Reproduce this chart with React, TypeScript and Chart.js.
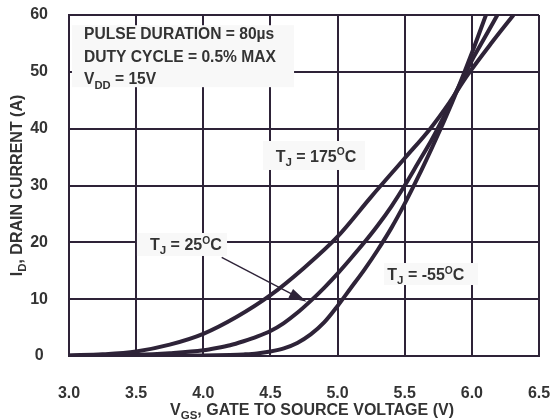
import { useEffect, useRef } from 'react';
import { Chart, registerables } from 'chart.js';

Chart.register(...registerables);

// ---- data ----
const X_TICK_VALUES = [3.0, 3.5, 4.0, 4.5, 5.0, 5.5, 6.0, 6.5];
const Y_TICK_VALUES = [0, 10, 20, 30, 40, 50, 60];

const vgs175 = [3.0, 3.25, 3.5, 3.75, 4.0, 4.25, 4.5, 4.75, 5.0, 5.25, 5.5, 5.69, 5.83, 5.97, 6.15, 6.31];
const id175 = [0.1, 0.3, 0.8, 2.0, 3.9, 6.9, 10.7, 15.5, 21.0, 28.0, 34.8, 40.0, 44.5, 49.5, 55.2, 60.0];

const vgs25 = [3.0, 3.25, 3.5, 3.75, 4.0, 4.1, 4.2, 4.3, 4.4, 4.5, 4.6, 4.7, 4.8, 4.9, 5.0, 5.1, 5.2, 5.3, 5.4, 5.5, 5.6, 5.7, 5.8, 5.9, 6.0, 6.1, 6.19];
const id25 = [0.05, 0.1, 0.2, 0.5, 1.0, 1.4, 1.9, 2.6, 3.4, 4.4, 5.8, 7.6, 9.7, 12.0, 14.5, 17.2, 20.0, 23.0, 26.3, 30.0, 34.0, 38.0, 42.5, 47.3, 52.0, 56.2, 60.0];

const vgsM55 = [3.0, 3.5, 4.0, 4.1, 4.2, 4.3, 4.4, 4.5, 4.6, 4.7, 4.8, 4.9, 5.0, 5.1, 5.2, 5.3, 5.4, 5.5, 5.6, 5.7, 5.8, 5.9, 6.0, 6.105];
const idM55 = [0, 0.02, 0.08, 0.12, 0.18, 0.28, 0.45, 0.8, 1.35, 2.3, 3.8, 5.9, 8.8, 12.0, 15.2, 18.7, 22.5, 26.8, 31.5, 36.5, 41.7, 47.3, 53.3, 60.0];

const X_TITLE = [{ t: 'V' }, { t: 'GS', k: 'sub' }, { t: ', GATE TO SOURCE VOLTAGE (V)' }];
const Y_TITLE = [{ t: 'I' }, { t: 'D', k: 'sub' }, { t: ', DRAIN CURRENT (A)' }];

const NOTE_LINES = [
  [{ t: 'PULSE DURATION = 80µs' }],
  [{ t: 'DUTY CYCLE = 0.5% MAX' }],
  [{ t: 'V' }, { t: 'DD', k: 'sub' }, { t: ' = 15V' }],
];

const LABEL_175 = [{ t: 'T' }, { t: 'J', k: 'sub' }, { t: ' = 175' }, { t: 'O', k: 'sup' }, { t: 'C' }];
const LABEL_25 = [{ t: 'T' }, { t: 'J', k: 'sub' }, { t: ' = 25' }, { t: 'O', k: 'sup' }, { t: 'C' }];
const LABEL_M55 = [{ t: 'T' }, { t: 'J', k: 'sub' }, { t: ' = -55' }, { t: 'O', k: 'sup' }, { t: 'C' }];

// annotation placement in data units: box [x0, x1, yTop, yBottom]
const NOTE_BOX = [3.022, 4.676, 58.2, 47.3];
const NOTE_TEXT_X = 3.112;
const NOTE_BASELINES = [55.73, 51.79, 47.81];
const LABELS = [
  { runs: LABEL_175, x: 4.839, y: 34.19, box: [4.445, 5.204, 37.83, 32.73] },
  { runs: LABEL_25, x: 3.87, y: 18.65, box: [3.506, 4.177, 21.64, 17.6] },
  { runs: LABEL_M55, x: 5.657, y: 13.37, box: [5.346, 6.046, 16.36, 12.49] },
];
const ARROW = { from: [4.137, 17.37], to: [4.77, 9.55] };

const INK = '#2e2338';
const TEXT = '#333333';
const BOX_BG = '#f8f8f8';
const FONT_FAMILY = '"Liberation Sans", Arial, Helvetica, sans-serif';
const FS = 16;
const NOTE_FS = 15.6;

type Run = { t: string; k?: string };

function fontFor(k: string | undefined, size: number) {
  const s = k === 'sub' ? size * 0.72 : k === 'sup' ? size * 0.64 : size;
  return `bold ${s}px ${FONT_FAMILY}`;
}

function drawRuns(ctx: CanvasRenderingContext2D, runs: Run[], x: number, y: number, align: 'left' | 'center', size = FS) {
  let total = 0;
  for (const r of runs) {
    ctx.font = fontFor(r.k, size);
    total += ctx.measureText(r.t).width;
  }
  let cx = align === 'center' ? x - total / 2 : x;
  ctx.textAlign = 'left';
  ctx.textBaseline = 'alphabetic';
  for (const r of runs) {
    ctx.font = fontFor(r.k, size);
    const dy = r.k === 'sub' ? size * 0.28 : r.k === 'sup' ? -size * 0.4 : 0;
    ctx.fillText(r.t, cx, y + dy);
    cx += ctx.measureText(r.t).width;
  }
}

const annotationPlugin = {
  id: 'annotations',
  beforeDatasetsDraw(chart: any) {
    const { ctx, scales } = chart;
    const xs = scales.x;
    const ys = scales.y;
    const px = (v: number) => xs.getPixelForValue(v);
    const py = (v: number) => ys.getPixelForValue(v);
    ctx.save();
    // note box
    ctx.fillStyle = BOX_BG;
    ctx.fillRect(px(NOTE_BOX[0]), py(NOTE_BOX[2]), px(NOTE_BOX[1]) - px(NOTE_BOX[0]), py(NOTE_BOX[3]) - py(NOTE_BOX[2]));
    ctx.fillStyle = TEXT;
    NOTE_LINES.forEach((runs, i) => drawRuns(ctx, runs, px(NOTE_TEXT_X), py(NOTE_BASELINES[i]), 'left', NOTE_FS));
    // labels
    for (const l of LABELS) {
      ctx.fillStyle = BOX_BG;
      ctx.fillRect(px(l.box[0]), py(l.box[2]), px(l.box[1]) - px(l.box[0]), py(l.box[3]) - py(l.box[2]));
      ctx.fillStyle = TEXT;
      drawRuns(ctx, l.runs, px(l.x), py(l.y), 'center');
    }
    // arrow
    const x0 = px(ARROW.from[0]), y0 = py(ARROW.from[1]);
    const x1 = px(ARROW.to[0]), y1 = py(ARROW.to[1]);
    const ang = Math.atan2(y1 - y0, x1 - x0);
    const hl = 18, hw = 5;
    ctx.strokeStyle = INK;
    ctx.lineWidth = 1.4;
    ctx.beginPath();
    ctx.moveTo(x0, y0);
    ctx.lineTo(x1 - Math.cos(ang) * hl * 0.8, y1 - Math.sin(ang) * hl * 0.8);
    ctx.stroke();
    ctx.fillStyle = INK;
    ctx.beginPath();
    ctx.moveTo(x1, y1);
    ctx.lineTo(x1 - Math.cos(ang) * hl - Math.sin(ang) * hw, y1 - Math.sin(ang) * hl + Math.cos(ang) * hw);
    ctx.lineTo(x1 - Math.cos(ang) * hl + Math.sin(ang) * hw, y1 - Math.sin(ang) * hl - Math.cos(ang) * hw);
    ctx.closePath();
    ctx.fill();
    ctx.restore();
  },
  afterDraw(chart: any) {
    const { ctx, chartArea } = chart;
    ctx.save();
    ctx.fillStyle = TEXT;
    drawRuns(ctx, X_TITLE, (chartArea.left + chartArea.right) / 2 + 8, 415, 'center');
    ctx.translate(21.5, (chartArea.top + chartArea.bottom) / 2);
    ctx.rotate(-Math.PI / 2);
    drawRuns(ctx, Y_TITLE, 0, 0, 'center');
    ctx.restore();
  },
};

function series(xs: number[], ys: number[]) {
  return xs.map((x, i) => ({ x, y: ys[i] }));
}

export default function App() {
  const ref = useRef<HTMLCanvasElement | null>(null);
  useEffect(() => {
    document.body.style.margin = '0';
    const canvas = ref.current;
    if (!canvas) return;
    const lineDs = (label: string, data: any[]) => ({
      label,
      data,
      borderColor: INK,
      borderWidth: 4,
      pointRadius: 0,
      cubicInterpolationMode: 'monotone' as const,
      fill: false,
    });
    const chart = new Chart(canvas, {
      type: 'line',
      data: {
        datasets: [
          lineDs('TJ = 175°C', series(vgs175, id175)),
          lineDs('TJ = 25°C', series(vgs25, id25)),
          lineDs('TJ = -55°C', series(vgsM55, idM55)),
        ],
      },
      options: {
        animation: false,
        responsive: true,
        maintainAspectRatio: false,
        layout: { padding: { left: 0, right: 13, top: 15, bottom: 0 } },
        plugins: { legend: { display: false }, tooltip: { enabled: false }, title: { display: false } },
        scales: {
          x: {
            type: 'linear',
            min: X_TICK_VALUES[0],
            max: X_TICK_VALUES[X_TICK_VALUES.length - 1],
            afterFit: (s: any) => { s.height = 63; s.paddingLeft = 0; s.paddingRight = 0; },
            afterBuildTicks: (s: any) => { s.ticks = X_TICK_VALUES.map((v) => ({ value: v })); },
            ticks: {
              padding: 28,
              color: TEXT,
              font: { family: FONT_FAMILY, size: FS, weight: 'bold' },
              callback: (v: any) => Number(v).toFixed(1),
              maxRotation: 0,
            },
            grid: { color: INK, lineWidth: 2, drawTicks: false },
            border: { color: INK, width: 2 },
          },
          y: {
            type: 'linear',
            min: Y_TICK_VALUES[0],
            max: Y_TICK_VALUES[Y_TICK_VALUES.length - 1],
            afterFit: (s: any) => { s.width = 69; s.paddingTop = 0; s.paddingBottom = 0; },
            afterBuildTicks: (s: any) => { s.ticks = Y_TICK_VALUES.map((v) => ({ value: v })); },
            ticks: {
              padding: 21,
              crossAlign: 'center',
              color: TEXT,
              font: { family: FONT_FAMILY, size: FS, weight: 'bold' },
              callback: (v: any) => String(v),
            },
            grid: { color: INK, lineWidth: 2, drawTicks: false },
            border: { color: INK, width: 2 },
          },
        },
      },
      plugins: [annotationPlugin],
    } as any);
    return () => chart.destroy();
  }, []);
  return (
    <div style={{ position: 'fixed', left: 0, top: 0, width: 552, height: 419, background: '#ffffff' }}>
      <canvas ref={ref} />
    </div>
  );
}
